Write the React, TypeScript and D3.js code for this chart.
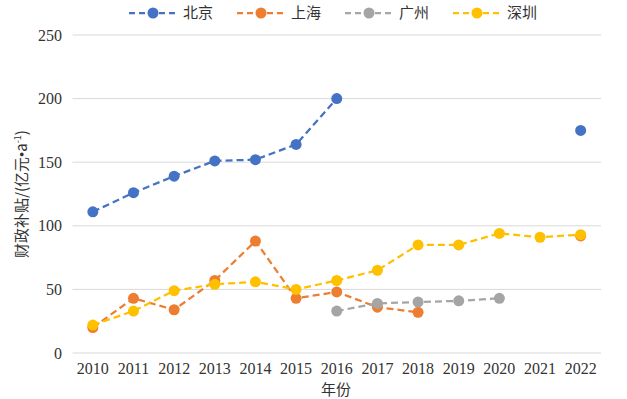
import React from 'react';
import { scaleBand, scaleLinear, line } from 'd3';

const years = ['2010', '2011', '2012', '2013', '2014', '2015', '2016', '2017', '2018', '2019', '2020', '2021', '2022'];
const beijing = [111, 126, 139, 151, 152, 164, 200, null, null, null, null, null, 175];
const shanghai = [20, 43, 34, 57, 88, 43, 48, 36, 32, null, null, null, 92];
const guangzhou = [null, null, null, null, null, null, 33, 39, 40, 41, 43, null, null];
const shenzhen = [22, 33, 49, 54, 56, 50, 57, 65, 85, 85, 94, 91, 93];
const yTicks = [0, 50, 100, 150, 200, 250];

const series = [
  { name: '北京', values: beijing, color: '#4472C4' },
  { name: '上海', values: shanghai, color: '#ED7D31' },
  { name: '广州', values: guangzhou, color: '#A5A5A5' },
  { name: '深圳', values: shenzhen, color: '#FFC000' },
];

const W = 627;
const H = 399;
const left = 72.5;
const right = 601;
const top = 35;
const bottom = 353;

const serif = { fontFamily: 'Liberation Serif' };
const cjk = { fontFamily: 'Noto Sans CJK SC' };

const App = () => {
  const x = scaleBand<string>().domain(years).range([left, right]);
  const y = scaleLinear().domain([0, 250]).range([bottom, top]);
  const cx = (i: number) => (x(years[i]) as number) + x.bandwidth() / 2;

  const path = line<number | null>()
    .defined(d => d != null)
    .x((d, i) => cx(i))
    .y(d => y(d as number));

  return (
    <svg width={W} height={H} style={{ position: 'absolute', left: 0, top: 0, background: '#fff' }}>
      {/* grid */}
      {yTicks.map(t => (
        <g key={t}>
          <line x1={left} x2={right} y1={y(t)} y2={y(t)} stroke="#d9d9d9" strokeWidth={1} />
          <text x={62} y={y(t) + 5.5} textAnchor="end" style={serif} fontSize={16} fill="#333">{t}</text>
        </g>
      ))}
      {years.map(yr => (
        <text key={yr} x={(x(yr) as number) + x.bandwidth() / 2} y={374} textAnchor="middle" style={serif} fontSize={16} fill="#333">{yr}</text>
      ))}
      <text x={336} y={395} textAnchor="middle" style={cjk} fontSize={15} fill="#333">年份</text>
      <text transform="translate(27,194) rotate(-90)" textAnchor="middle" style={cjk} fontSize={15} fill="#333">
        财政补贴/(亿元<tspan style={serif}>•</tspan>a<tspan fontSize={9} dy={-6}>-1</tspan><tspan dy={6}>)</tspan>
      </text>

      {/* series */}
      {series.map(s => (
        <g key={s.name}>
          <path d={path(s.values) || ''} fill="none" stroke={s.color} strokeWidth={2.25} strokeDasharray="7,4" />
          {s.values.map((v, i) => v == null ? null : (
            <circle key={i} cx={cx(i)} cy={y(v)} r={5.5} fill={s.color} />
          ))}
        </g>
      ))}

      {/* legend */}
      {series.map((s, i) => {
        const lx = 129 + i * 108;
        return (
          <g key={s.name}>
            <line x1={lx} x2={lx + 48} y1={13} y2={13} stroke={s.color} strokeWidth={2.25} strokeDasharray="6,4" />
            <circle cx={lx + 24} cy={13} r={5.5} fill={s.color} />
            <text x={lx + 54} y={18} style={cjk} fontSize={15} fill="#333">{s.name}</text>
          </g>
        );
      })}
    </svg>
  );
};

export default App;
